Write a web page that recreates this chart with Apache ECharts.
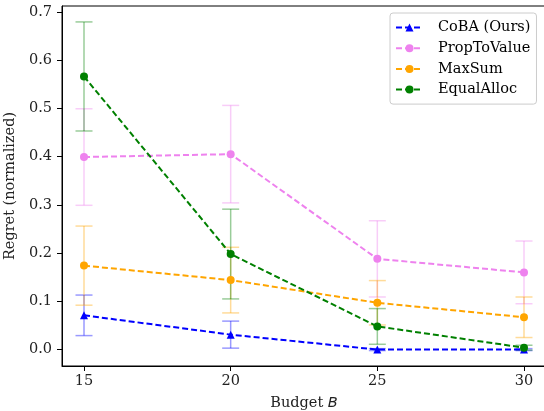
<!DOCTYPE html>
<html>
<head>
<meta charset="utf-8">
<script src="https://cdn.jsdelivr.net/npm/echarts@6/dist/echarts.min.js"></script>
<style>
  html, body { margin: 0; padding: 0; background: #fff; }
  #chart { width: 544px; height: 411px; }
</style>
</head>
<body>
<div id="chart"></div>
<script>
var budgets = [15, 20, 25, 30];
var xTicks = [15, 20, 25, 30];
var yTicks = [0, 0.1, 0.2, 0.3, 0.4, 0.5, 0.6, 0.7];

var cobaMean = [0.071, 0.031, 0.000, 0.000];
var cobaErr = [0.042, 0.028, 0.002, 0.002];
var propMean = [0.399, 0.405, 0.188, 0.160];
var propErr = [0.100, 0.101, 0.079, 0.065];
var maxSumMean = [0.174, 0.144, 0.097, 0.067];
var maxSumErr = [0.082, 0.068, 0.046, 0.042];
var equalMean = [0.566, 0.198, 0.048, 0.004];
var equalErr = [0.113, 0.093, 0.037, 0.005];

var FONT = 'DejaVu Serif';
var FS = 14.5;

function pairs(mean) {
  return budgets.map(function (b, i) { return [b, mean[i]]; });
}
function triples(mean, err) {
  return budgets.map(function (b, i) { return [b, mean[i], err[i]]; });
}

function errorBars(name, mean, err, color) {
  return {
    type: 'custom',
    name: name + ' err',
    data: triples(mean, err),
    silent: true,
    z: 1,
    renderItem: function (params, api) {
      var x = api.value(0), y = api.value(1), e = api.value(2);
      var top = api.coord([x, y + e]);
      var bot = api.coord([x, y - e]);
      var style = { stroke: color, lineWidth: 1.5, opacity: 0.4 };
      var half = 8.5;
      return {
        type: 'group',
        children: [
          { type: 'line', shape: { x1: top[0], y1: top[1], x2: bot[0], y2: bot[1] }, style: style },
          { type: 'line', shape: { x1: top[0] - half, y1: top[1], x2: top[0] + half, y2: top[1] }, style: style },
          { type: 'line', shape: { x1: bot[0] - half, y1: bot[1], x2: bot[0] + half, y2: bot[1] }, style: style }
        ]
      };
    }
  };
}

function lineSeries(name, mean, color, symbol) {
  return {
    type: 'line',
    name: name,
    data: pairs(mean),
    symbol: symbol,
    symbolSize: 8,
    showSymbol: true,
    z: 3,
    itemStyle: { color: color },
    lineStyle: { color: color, width: 2, type: [6, 3] }
  };
}

var chart = echarts.init(document.getElementById('chart'));

chart.setOption({
  animation: false,
  backgroundColor: '#fff',
  textStyle: { fontFamily: FONT },
  grid: {
    left: 62, right: -2, top: 6, bottom: 45,
    containLabel: false,
    outerBoundsMode: 'none',
    show: true, borderColor: '#000', borderWidth: 1, backgroundColor: 'transparent'
  },
  legend: {
    left: 390, top: 13,
    orient: 'vertical',
    data: ['CoBA (Ours)', 'PropToValue', 'MaxSum', 'EqualAlloc'],
    itemWidth: 27, itemHeight: 10, itemGap: 3.7,
    padding: [6, 6, 6, 5],
    borderColor: '#cccccc', borderWidth: 1, borderRadius: 3,
    backgroundColor: 'rgba(255,255,255,0.8)',
    textStyle: { fontFamily: FONT, fontSize: FS, lineHeight: 17, color: '#000', padding: [0, 0, 0, 10] }
  },
  xAxis: {
    type: 'value',
    min: 14.25, max: 30.75,
    name: '{n|Budget }{i|B}',
    nameLocation: 'middle',
    nameGap: 30,
    nameTextStyle: {
      rich: {
        n: { fontFamily: FONT, fontSize: FS, color: '#222' },
        i: { fontFamily: 'DejaVu Sans', fontSize: FS, color: '#222', fontStyle: 'italic' }
      }
    },
    axisLine: { show: true, onZero: false, lineStyle: { color: '#000' } },
    axisTick: { show: true, customValues: xTicks, length: 5, lineStyle: { color: '#000' } },
    axisLabel: { customValues: xTicks, fontFamily: FONT, fontSize: FS, color: '#222', margin: 8 },
    splitLine: { show: false }
  },
  yAxis: {
    type: 'value',
    min: -0.034, max: 0.712,
    name: 'Regret (normalized)',
    nameLocation: 'middle',
    nameGap: 37,
    nameTextStyle: { fontFamily: FONT, fontSize: FS, color: '#222' },
    axisLine: { show: true, onZero: false, lineStyle: { color: '#000' } },
    axisTick: { show: true, customValues: yTicks, length: 5, lineStyle: { color: '#000' } },
    axisLabel: {
      customValues: yTicks, fontFamily: FONT, fontSize: FS, color: '#222', margin: 10,
      formatter: function (v) { return v.toFixed(1); }
    },
    splitLine: { show: false }
  },
  series: [
    errorBars('CoBA (Ours)', cobaMean, cobaErr, '#0000ff'),
    lineSeries('CoBA (Ours)', cobaMean, '#0000ff', 'triangle'),
    errorBars('PropToValue', propMean, propErr, '#ee82ee'),
    lineSeries('PropToValue', propMean, '#ee82ee', 'circle'),
    errorBars('MaxSum', maxSumMean, maxSumErr, '#ffa500'),
    lineSeries('MaxSum', maxSumMean, '#ffa500', 'circle'),
    errorBars('EqualAlloc', equalMean, equalErr, '#008000'),
    lineSeries('EqualAlloc', equalMean, '#008000', 'circle')
  ]
});
</script>
</body>
</html>
